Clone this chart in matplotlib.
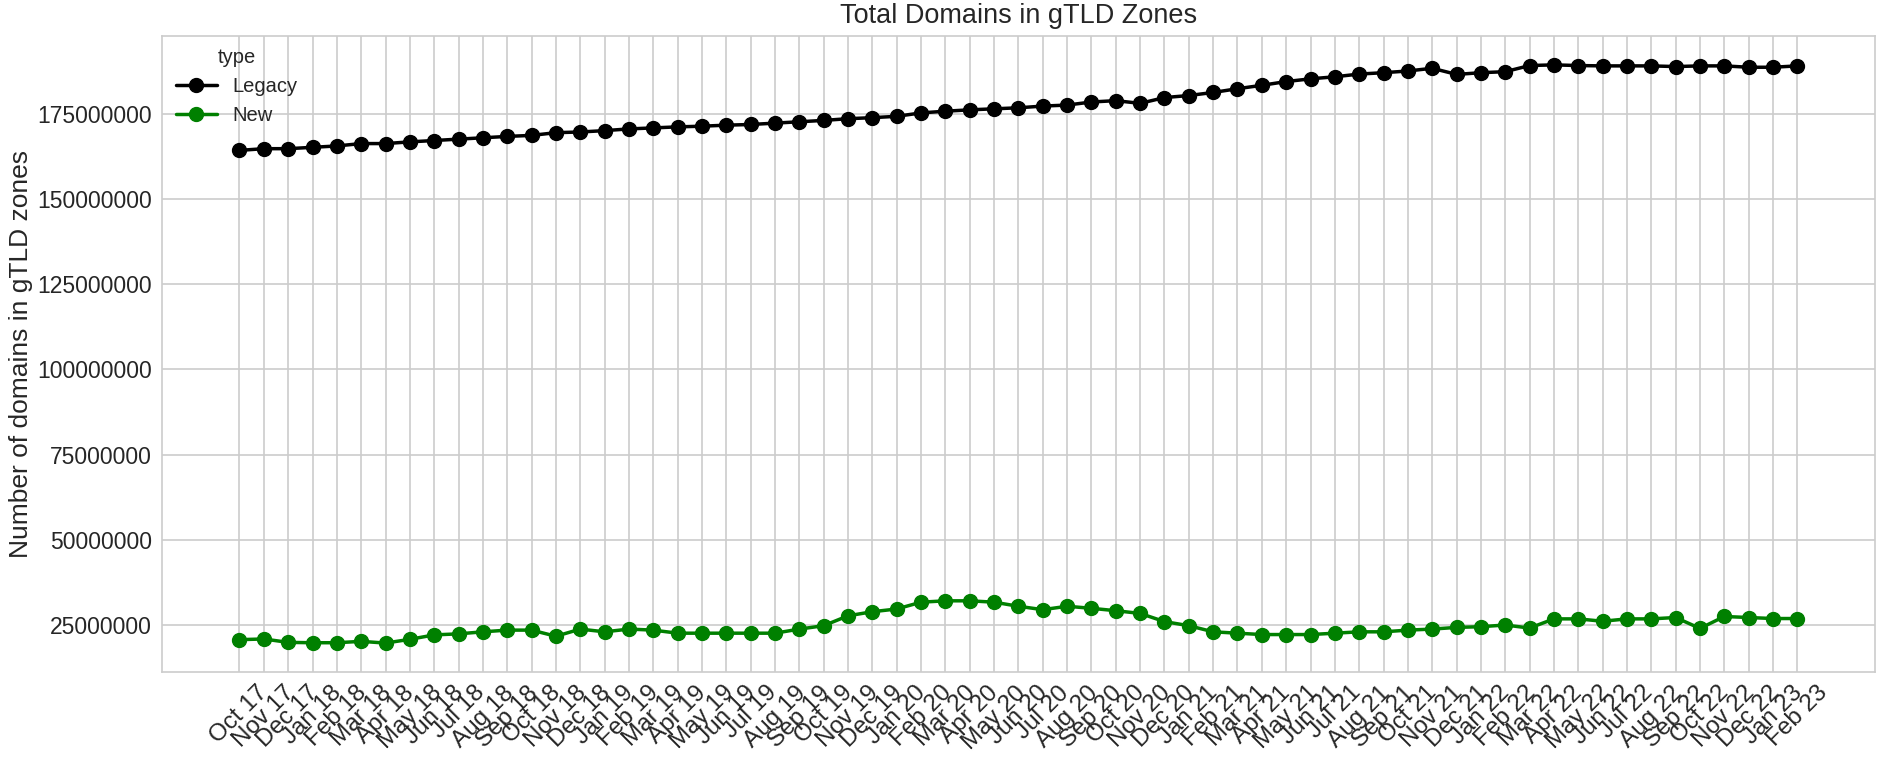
import matplotlib
matplotlib.use("Agg")
import matplotlib.pyplot as plt
import seaborn as sns

months = ["Oct 17", "Nov 17", "Dec 17",
          "Jan 18", "Feb 18", "Mar 18", "Apr 18", "May 18", "Jun 18", "Jul 18", "Aug 18", "Sep 18", "Oct 18", "Nov 18", "Dec 18",
          "Jan 19", "Feb 19", "Mar 19", "Apr 19", "May 19", "Jun 19", "Jul 19", "Aug 19", "Sep 19", "Oct 19", "Nov 19", "Dec 19",
          "Jan 20", "Feb 20", "Mar 20", "Apr 20", "May 20", "Jun 20", "Jul 20", "Aug 20", "Sep 20", "Oct 20", "Nov 20", "Dec 20",
          "Jan 21", "Feb 21", "Mar 21", "Apr 21", "May 21", "Jun 21", "Jul 21", "Aug 21", "Sep 21", "Oct 21", "Nov 21", "Dec 21",
          "Jan 22", "Feb 22", "Mar 22", "Apr 22", "May 22", "Jun 22", "Jul 22", "Aug 22", "Sep 22", "Oct 22", "Nov 22", "Dec 22",
          "Jan 23", "Feb 23"]

legacy = [164.3, 164.8, 164.8, 165.2, 165.6, 166.3, 166.3, 166.8, 167.2, 167.6, 168.0, 168.4, 168.7, 169.5, 169.7,
          170.1, 170.6, 170.9, 171.2, 171.4, 171.7, 171.9, 172.3, 172.7, 173.1, 173.6, 173.9,
          174.3, 175.3, 175.8, 176.2, 176.5, 176.8, 177.3, 177.6, 178.5, 178.9, 178.1, 179.8,
          180.4, 181.3, 182.4, 183.4, 184.5, 185.3, 185.9, 186.7, 187.1, 187.6, 188.4, 186.6,
          187.1, 187.4, 189.2, 189.4, 189.2, 189.1, 189.1, 189.1, 188.9, 189.1, 189.1, 188.7,
          188.7, 189.1]

new = [20.7, 20.9, 19.9, 19.8, 19.8, 20.2, 19.7, 20.8, 22.1, 22.4, 23.0, 23.5, 23.5, 21.7, 23.8,
       23.0, 23.8, 23.5, 22.6, 22.6, 22.6, 22.6, 22.6, 23.8, 24.8, 27.7, 28.9,
       29.7, 31.7, 32.1, 32.1, 31.7, 30.5, 29.5, 30.5, 29.9, 29.2, 28.4, 26.0,
       24.8, 23.0, 22.6, 22.2, 22.2, 22.2, 22.6, 23.0, 23.0, 23.5, 23.8, 24.3,
       24.5, 25.0, 24.1, 26.8, 26.8, 26.1, 26.8, 26.8, 27.2, 24.0, 27.5, 27.2,
       26.9, 26.9]

series_names = ["Legacy", "New"]
series_colors = ["black", "green"]

sns.set_style("whitegrid")
plt.rcParams["font.family"] = ["Liberation Sans", "DejaVu Sans"]

fig = plt.figure(figsize=(18.79, 7.65), dpi=100)
ax = fig.add_axes([0.086, 0.1216, 0.912, 0.8314])

x = list(range(len(months)))
for name, vals, col in zip(series_names, [legacy, new], series_colors):
    ax.plot(x, [v * 1e6 for v in vals], color=col, marker="o", markersize=10,
            linewidth=2.5, label=name)

ax.set_xticks(x)
ax.set_xticklabels(months, rotation=45, fontsize=17.5, color="#262626")
ax.tick_params(axis="y", labelsize=16.5, colors="#262626")
ax.ticklabel_format(axis="y", style="plain", useOffset=False)
ax.set_ylabel("Number of domains in gTLD zones", fontsize=19, color="#262626",
              labelpad=3)
ax.set_title("Total Domains in gTLD Zones", fontsize=19.5, color="#262626", pad=9)
ax.grid(True, color="#cccccc", linewidth=1.2)
for s in ax.spines.values():
    s.set_color("#cccccc")
    s.set_linewidth(1.2)

leg = ax.legend(title="type", loc="upper left", fontsize=14.5, title_fontsize=14.5,
                frameon=False, bbox_to_anchor=(-0.002, 1.01))

fig.savefig("out.png", dpi=100)
